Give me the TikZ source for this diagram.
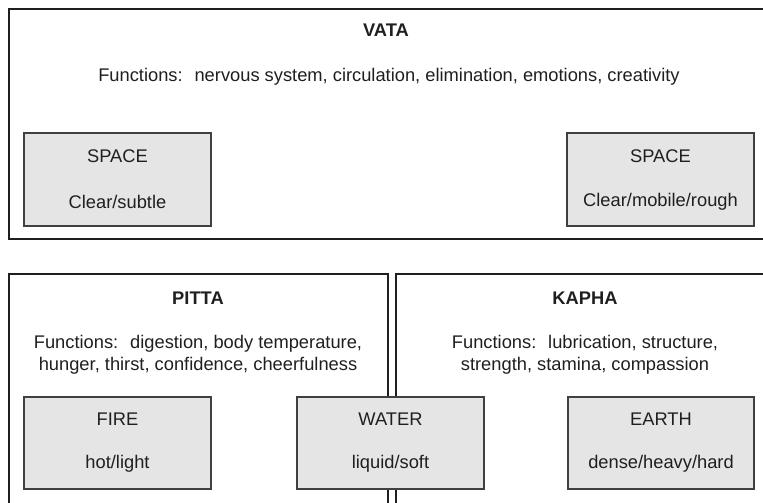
\documentclass[tikz,border=0pt]{standalone}
\usepackage{fontspec}
\setmainfont{Liberation Sans}
\begin{document}
\begin{tikzpicture}[x=1pt,y=-1pt,
  outer/.style={draw=black!88,line width=2.8pt},
  elem/.style={draw=black!75,fill=black!10,line width=1.3pt},
  txt/.style={font=\fontsize{18.3}{22}\selectfont,text=black!88,inner sep=0pt,anchor=center},
  ttl/.style={font=\fontsize{18.3}{22}\selectfont\bfseries,text=black!88,inner sep=0pt,anchor=center}]
\useasboundingbox (0,0) rectangle (763,503);
\clip (0,0) rectangle (763,503);
% VATA
\draw[outer] (9,9) rectangle (775,239);
\node[ttl] (vata) at (386,30) {VATA};
\node[txt] (vataf) at (389,77) {Functions:~ nervous system, circulation, elimination, emotions, creativity};
\draw[elem] (24,133) rectangle (211,226);
\node[txt] (s1a) at (117.5,156) {SPACE};
\node[txt] (s1b) at (117.5,202) {Clear/subtle};
\draw[elem] (567,133) rectangle (754,226);
\node[txt] (s2a) at (660.5,156) {SPACE};
\node[txt] (s2b) at (660.5,202) {Clear/mobile/rough};
% PITTA
\draw[outer] (9,274) rectangle (388,515);
\node[ttl] (pitta) at (198,298) {PITTA};
\node[txt,align=center] (pittaf) at (198,355) {Functions:~ digestion, body temperature,\\hunger, thirst, confidence, cheerfulness};
% KAPHA
\draw[outer] (396,274) rectangle (775,515);
\node[ttl] (kapha) at (585,298) {KAPHA};
\node[txt,align=center] (kaphaf) at (585,355) {Functions:~ lubrication, structure,\\strength, stamina, compassion};
% elements
\draw[elem] (24,397) rectangle (211,489);
\node[txt] (fa) at (117.5,419) {FIRE};
\node[txt] (fb) at (117.5,464) {hot/light};
\draw[elem] (297,397) rectangle (484,489);
\node[txt] (wa) at (390.5,419) {WATER};
\node[txt] (wb) at (390.5,464) {liquid/soft};
\draw[elem] (568,397) rectangle (754,489);
\node[txt] (ea) at (661,419) {EARTH};
\node[txt] (eb) at (661,464) {dense/heavy/hard};
\end{tikzpicture}
\end{document}
